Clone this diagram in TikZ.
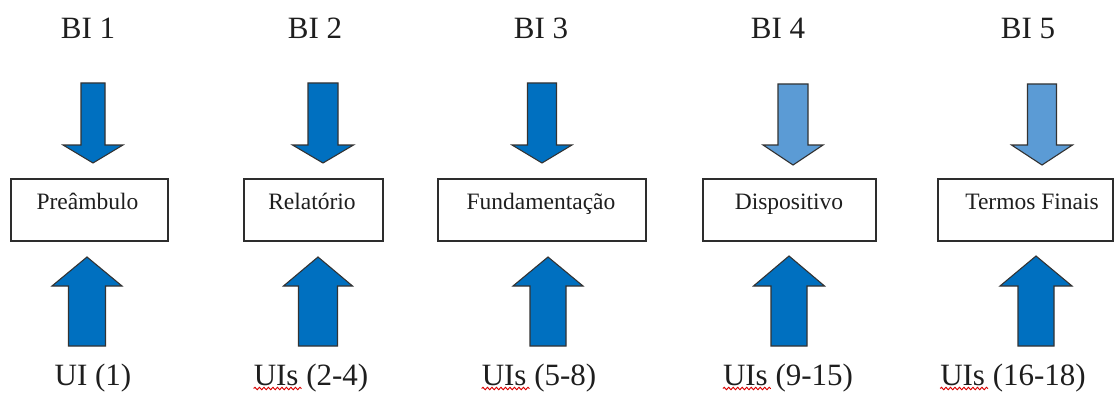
\documentclass[tikz,border=0pt]{standalone}
\usepackage{fontspec}
\setmainfont{Liberation Serif}
\usetikzlibrary{decorations.pathmorphing}
\definecolor{darkblue}{RGB}{0,112,192}
\definecolor{lightblue}{RGB}{91,155,213}
\definecolor{edgegray}{RGB}{45,45,45}
\definecolor{txt}{RGB}{30,30,30}
\tikzset{
  toplabel/.style={font=\fontsize{31}{36}\selectfont, text=txt, inner sep=0pt, anchor=base},
  boxnode/.style={draw=edgegray, line width=1.6pt, minimum height=62pt, inner sep=0pt},
  boxtext/.style={font=\fontsize{23.5}{28}\selectfont, text=txt, inner sep=0pt, anchor=base},
  blockarrow/.style={draw=black!80, line width=1.1pt, line join=miter},
  spell/.style={draw=red!85!black, line width=0.9pt, decorate,
    decoration={snake, amplitude=1.2pt, segment length=4.5pt}}
}
% fill, centre x, shaft half width, head half width, end y, head base y, tip y
\newcommand{\blockarr}[7]{%
  \filldraw[blockarrow, fill=#1] ({#2-#3},#5) -- ({#2+#3},#5) -- ({#2+#3},#6) --
    ({#2+#4},#6) -- (#2,#7) -- ({#2-#4},#6) -- ({#2-#3},#6) -- cycle;}
\begin{document}
\begin{tikzpicture}[x=1pt,y=-1pt]
\useasboundingbox (0,0) rectangle (1115,393);
% top labels
\node[toplabel] (bi1) at (88,39) {BI 1};
\node[toplabel] (bi2) at (315,39) {BI 2};
\node[toplabel] (bi3) at (541,39) {BI 3};
\node[toplabel] (bi4) at (778,39) {BI 4};
\node[toplabel] (bi5) at (1028,39) {BI 5};
% boxes
\node[boxnode, minimum width=157pt] (b1) at (89.5,210) {};
\node[boxnode, minimum width=139pt] (b2) at (313.5,210) {};
\node[boxnode, minimum width=208pt] (b3) at (542,210) {};
\node[boxnode, minimum width=173pt] (b4) at (789.5,210) {};
\node[boxnode, minimum width=175pt] (b5) at (1025.5,210) {};
\node[boxtext] (t1) at (87.5,209) {Preâmbulo};
\node[boxtext] (t2) at (312,209) {Relatório};
\node[boxtext] (t3) at (541,209) {Fundamentação};
\node[boxtext] (t4) at (789,209) {Dispositivo};
\node[boxtext] (t5) at (1032,209) {Termos Finais};
% down arrows
\blockarr{darkblue}{93}{12}{30}{83}{145}{163}
\blockarr{darkblue}{323}{15}{30.5}{83}{145}{163}
\blockarr{darkblue}{542}{14.5}{30}{83}{145}{163}
\blockarr{lightblue}{793}{15}{30}{84}{145}{165}
\blockarr{lightblue}{1042}{14.5}{30.5}{84}{145}{165}
% up arrows
\blockarr{darkblue}{87}{18.5}{35}{346}{286}{257}
\blockarr{darkblue}{318}{19.5}{34.5}{346}{286}{257}
\blockarr{darkblue}{548}{18}{35}{346}{286}{257}
\blockarr{darkblue}{789}{18}{35.5}{346}{286}{256}
\blockarr{darkblue}{1036}{18}{36}{346}{286}{256}
% bottom labels
\node[toplabel] (u1) at (93,385) {UI (1)};
\node[toplabel] (u2) at (311,385) {UIs (2-4)};
\node[toplabel] (u3) at (539,385) {UIs (5-8)};
\node[toplabel] (u4) at (788,385) {UIs (9-15)};
\node[toplabel] (u5) at (1013,385) {UIs (16-18)};
\foreach \n in {u2,u3,u4,u5}
  \draw[spell] ([yshift=-3.5pt]\n.base west) -- ++(48,0);
\end{tikzpicture}
\end{document}
